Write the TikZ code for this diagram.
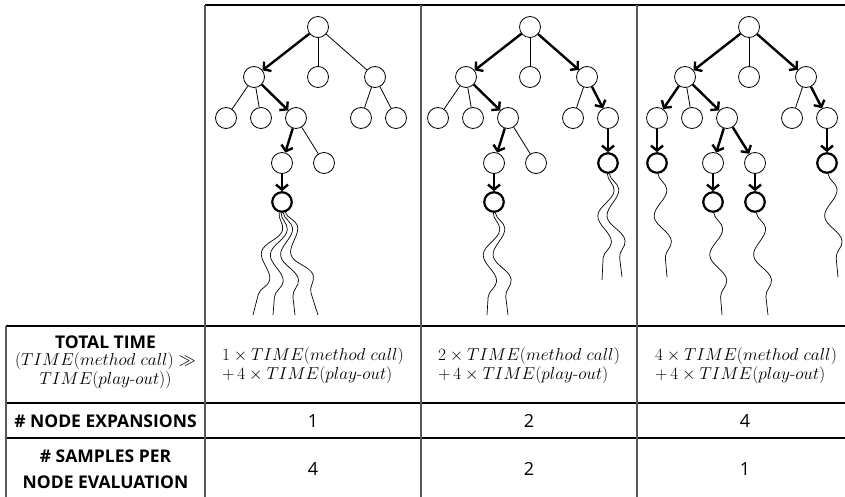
\documentclass[tikz,border=0pt]{standalone}
\usepackage{fontspec}
\usepackage{tikz}
\usetikzlibrary{arrows.meta,decorations.pathmorphing}
\newfontfamily\labelfont{Open Sans}

\tikzset{
	vertex/.style={circle, draw, minimum size=21pt, inner sep=0pt, line width=0.8pt},
	leaf/.style={vertex, line width=2.2pt, minimum size=19.5pt},
	edge/.style={line width=0.8pt},
	pick/.style={line width=2.4pt, -{Straight Barb[length=5pt,width=12pt]}},
	playout/.style={line width=0.7pt, decorate, decoration={snake, amplitude=7.5pt, segment length=52pt}},
	hline/.style={line width=1.3pt},
	vline/.style={line width=1.6pt, color=black!65},
	hdr/.style={font=\labelfont\bfseries\fontsize{17.5}{20}\selectfont, align=center, inner sep=0pt},
	cell/.style={font=\labelfont\fontsize{18}{20}\selectfont},
	eq/.style={font=\fontsize{17.28}{19}\selectfont, inner sep=0pt},
}

% nodes shared by all three trees: #1 name prefix, #2 x of the root
\def\uppertree#1#2{
	\node[vertex] (#1r) at (#2, 27) {};
	\node[vertex] (#1a) at (#2-64, 77) {};
	\node[vertex] (#1b) at (#2, 77) {};
	\node[vertex] (#1c) at (#2+57, 77) {};
	\node[vertex] (#1aa) at (#2-92, 118) {};
	\node[vertex] (#1ab) at (#2-57, 118) {};
	\node[vertex] (#1ac) at (#2-22, 118) {};
	\node[vertex] (#1ca) at (#2+43, 118) {};
	\node[vertex] (#1cb) at (#2+78, 118) {};
}

\begin{document}
\begin{tikzpicture}[x=1pt, y=-1pt]
			%%%%% START %%%%%
			\useasboundingbox (0,0) rectangle (845,497);
			\clip (0,0) rectangle (845,497);
			
			% grid
			\draw[hline] (205,5) -- (845,5);
			\draw[hline] (6,326) -- (845,326);
			\draw[hline] (6,403) -- (845,403);
			\draw[hline] (6,438) -- (845,438);
			\draw[vline] (6,326) -- (6,500);
			\draw[vline] (205,5) -- (205,500);
			\draw[vline] (421,5) -- (421,500);
			\draw[vline] (637,5) -- (637,500);
			
			% one expansion
			\uppertree{p1}{318}
			\node[vertex] (p1aca) at (282,163) {};
			\node[vertex] (p1acb) at (324,163) {};
			\node[leaf] (p1x) at (282,202) {};
			\draw[pick] (p1r) -- (p1a);
			\draw[edge] (p1r) -- (p1b);
			\draw[edge] (p1r) -- (p1c);
			\draw[edge] (p1a) -- (p1aa);
			\draw[edge] (p1a) -- (p1ab);
			\draw[pick] (p1a) -- (p1ac);
			\draw[edge] (p1c) -- (p1ca);
			\draw[edge] (p1c) -- (p1cb);
			\draw[pick] (p1ac) -- (p1aca);
			\draw[edge] (p1ac) -- (p1acb);
			\draw[pick] (p1aca) -- (p1x);
			\coordinate (p1e1) at (253,315);
			\coordinate (p1e2) at (273,315);
			\coordinate (p1e3) at (295,315);
			\coordinate (p1e4) at (318,315);
			\foreach \e in {p1e1,p1e2,p1e3,p1e4}
				\draw[playout] (p1x) -- (\e);
			
			% two expansions
			\uppertree{p2}{530}
			\node[vertex] (p2aca) at (494,163) {};
			\node[vertex] (p2acb) at (536,163) {};
			\node[leaf] (p2x) at (494,202) {};
			\node[leaf] (p2y) at (608,163) {};
			\draw[pick] (p2r) -- (p2a);
			\draw[edge] (p2r) -- (p2b);
			\draw[pick] (p2r) -- (p2c);
			\draw[edge] (p2a) -- (p2aa);
			\draw[edge] (p2a) -- (p2ab);
			\draw[pick] (p2a) -- (p2ac);
			\draw[edge] (p2c) -- (p2ca);
			\draw[pick] (p2c) -- (p2cb);
			\draw[pick] (p2ac) -- (p2aca);
			\draw[edge] (p2ac) -- (p2acb);
			\draw[pick] (p2aca) -- (p2x);
			\draw[pick] (p2cb) -- (p2y);
			\coordinate (p2e1) at (487,315);
			\coordinate (p2e2) at (508,315);
			\coordinate (p2e3) at (602,280);
			\coordinate (p2e4) at (622,277);
			\draw[playout] (p2x) -- (p2e1);
			\draw[playout] (p2x) -- (p2e2);
			\draw[playout] (p2y) -- (p2e3);
			\draw[playout] (p2y) -- (p2e4);
			
			% four expansions
			\uppertree{p3}{749}
			\node[leaf] (p3w) at (657,163) {};
			\node[vertex] (p3aca) at (713,163) {};
			\node[vertex] (p3acb) at (755,163) {};
			\node[leaf] (p3x) at (713,202) {};
			\node[leaf] (p3y) at (755,202) {};
			\node[leaf] (p3z) at (827,163) {};
			\draw[pick] (p3r) -- (p3a);
			\draw[edge] (p3r) -- (p3b);
			\draw[pick] (p3r) -- (p3c);
			\draw[pick] (p3a) -- (p3aa);
			\draw[edge] (p3a) -- (p3ab);
			\draw[pick] (p3a) -- (p3ac);
			\draw[edge] (p3c) -- (p3ca);
			\draw[pick] (p3c) -- (p3cb);
			\draw[pick] (p3aa) -- (p3w);
			\draw[pick] (p3ac) -- (p3aca);
			\draw[pick] (p3ac) -- (p3acb);
			\draw[pick] (p3aca) -- (p3x);
			\draw[pick] (p3acb) -- (p3y);
			\draw[pick] (p3cb) -- (p3z);
			\coordinate (p3e1) at (667,277);
			\coordinate (p3e2) at (722,315);
			\coordinate (p3e3) at (768,315);
			\coordinate (p3e4) at (838,277);
			\draw[playout] (p3w) -- (p3e1);
			\draw[playout] (p3x) -- (p3e2);
			\draw[playout] (p3y) -- (p3e3);
			\draw[playout] (p3z) -- (p3e4);
			
			% table text
			\node[hdr] (total) at (105.5,342) {TOTAL TIME};
			\node[eq, align=center] (ratio) at (105.5,371) {$(TIME(method\ call)\gg$\\$TIME(play\mbox{-}out))$};
			\node[hdr] (expand) at (105.5,421) {\# NODE EXPANSIONS};
			\node[hdr] (samples) at (105.5,469) {\# SAMPLES PER\\[6pt]NODE EVALUATION};
			
			\node[eq, align=left] (cost1) at (313,366) {$1\times TIME(method\ call)$\\$+\,4\times TIME(play\mbox{-}out)$};
			\node[eq, align=left] (cost2) at (529,366) {$2\times TIME(method\ call)$\\$+\,4\times TIME(play\mbox{-}out)$};
			\node[eq, align=left] (cost3) at (746,366) {$4\times TIME(method\ call)$\\$+\,4\times TIME(play\mbox{-}out)$};
			
			\node[cell] (exp1) at (313,421) {1};
			\node[cell] (exp2) at (529,421) {2};
			\node[cell] (exp3) at (745,421) {4};
			\node[cell] (smp1) at (313,469) {4};
			\node[cell] (smp2) at (529,469) {2};
			\node[cell] (smp3) at (745,469) {1};
			
			%%%%% END %%%%%
		\end{tikzpicture}
\end{document}
